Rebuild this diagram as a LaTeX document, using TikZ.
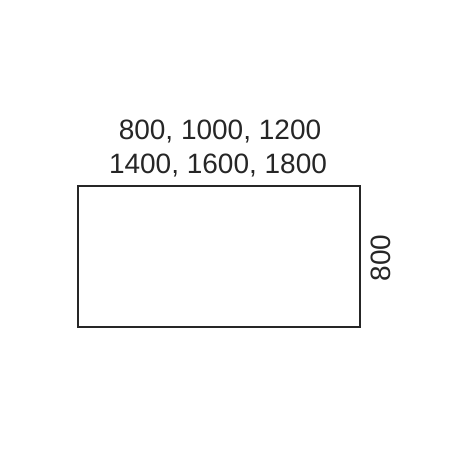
\documentclass[tikz,border=0pt]{standalone}
\usepackage{fontspec}
\setmainfont{Liberation Sans}
\usetikzlibrary{calc,positioning}
\begin{document}
\begin{tikzpicture}[x=1pt,y=-1pt,
    dimtext/.style={font=\fontsize{28}{34}\selectfont, text=black!85, inner sep=0pt}]
    \useasboundingbox (0,0) rectangle (450,450);
    \pgfmathsetmacro{\lft}{78}
    \pgfmathsetmacro{\rgt}{360}
    \pgfmathsetmacro{\tp}{186}
    \pgfmathsetmacro{\bt}{327}

    \coordinate (A) at (\lft,\tp);
    \coordinate (B) at (\rgt,\bt);
    \draw[line width=2.4pt, black!85] (A) rectangle (B);

    % widths
    \node[dimtext] (wone) at (220,132) {800, 1000, 1200};
    \node[dimtext] (wtwo) at (218,166) {1400, 1600, 1800};
    % depth
    \node[dimtext, rotate=90] (depth) at (381,258) {800};
  \end{tikzpicture}
\end{document}
